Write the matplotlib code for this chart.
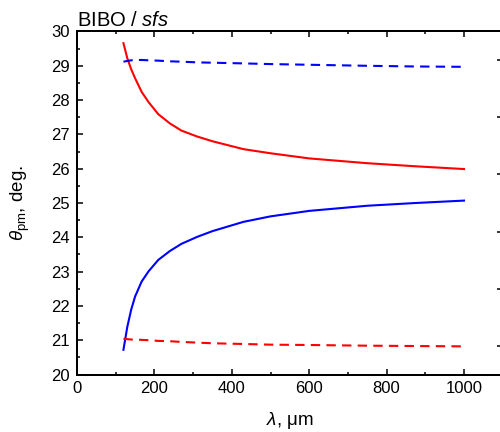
import matplotlib
matplotlib.use("Agg")
import matplotlib.pyplot as plt
from matplotlib.ticker import MultipleLocator

plt.rcParams['font.family'] = ['Liberation Sans', 'DejaVu Sans']
plt.rcParams['mathtext.fontset'] = 'custom'
plt.rcParams['mathtext.rm'] = 'Liberation Sans'
plt.rcParams['mathtext.it'] = 'Liberation Sans:italic'

# wavelength grid (um)
wavelength = [120, 130, 140, 150, 167, 185, 210, 240, 270, 310, 350, 430, 500, 600, 750, 875, 1000]
# phase-matching angles (deg)
red_solid = [29.66, 29.22, 28.90, 28.64, 28.24, 27.94, 27.59, 27.32, 27.11, 26.94, 26.80,
             26.57, 26.45, 26.30, 26.16, 26.07, 25.99]
blue_solid = [20.72, 21.39, 21.89, 22.27, 22.71, 23.01, 23.34, 23.60, 23.81, 24.01, 24.18,
              24.45, 24.61, 24.77, 24.92, 25.00, 25.07]
blue_dashed = [29.12, 29.14, 29.16, 29.17, 29.17, 29.16, 29.15, 29.13, 29.12, 29.10, 29.09,
               29.07, 29.05, 29.03, 29.00, 28.98, 28.97]
red_dashed = [21.04, 21.03, 21.02, 21.02, 21.01, 21.00, 20.98, 20.97, 20.95, 20.93, 20.91,
              20.89, 20.87, 20.86, 20.84, 20.83, 20.82]

x_ticks = [0, 200, 400, 600, 800, 1000]
y_ticks = [20, 21, 22, 23, 24, 25, 26, 27, 28, 29, 30]

fig = plt.figure(figsize=(5.0, 4.32), dpi=100)
ax = fig.add_axes([0.154, 0.1331, 0.8514, 0.794])

lw = 1.5
dash = (0, (4.5, 3.0))
ax.plot(wavelength, red_solid, color='#ff0000', lw=lw)
ax.plot(wavelength, blue_solid, color='#0000ff', lw=lw)
ax.plot(wavelength, blue_dashed, color='#0000ff', lw=lw, linestyle=dash)
ax.plot(wavelength, red_dashed, color='#ff0000', lw=lw, linestyle=dash)

ax.set_xlim(0, 1100)
ax.set_ylim(20, 30)
ax.set_xticks(x_ticks)
ax.set_yticks(y_ticks)
ax.xaxis.set_minor_locator(MultipleLocator(100))
ax.yaxis.set_minor_locator(MultipleLocator(0.5))
ax.tick_params(which='major', direction='in', length=4.5, width=1.1, labelsize=12,
               top=True, right=False, pad=5)
ax.tick_params(which='minor', direction='in', length=2.5, width=1.1, top=True, right=False)
ax.tick_params(axis='x', labeltop=False)
for s in ax.spines.values():
    s.set_linewidth(1.4)

ax2 = ax.twinx()
ax2.set_ylim(-0.5, 5.5)
ax2.set_yticks([0, 1, 2, 3, 4, 5])
ax2.yaxis.set_minor_locator(MultipleLocator(0.5))
ax2.tick_params(which='major', direction='in', length=4.5, width=1.1, labelright=False)
ax2.tick_params(which='minor', direction='in', length=2.5, width=1.1)
for s in ax2.spines.values():
    s.set_linewidth(1.4)

ax.set_xlabel(r'$\lambda$, μm', fontsize=13.5, labelpad=10)
ax.set_ylabel(r'$\theta_{\rm pm}$, deg.', fontsize=13.5, labelpad=14)
ax.set_title(r'BIBO / $sfs$', fontsize=14.5, loc='left', pad=4)

fig.savefig('out.png', dpi=100)
